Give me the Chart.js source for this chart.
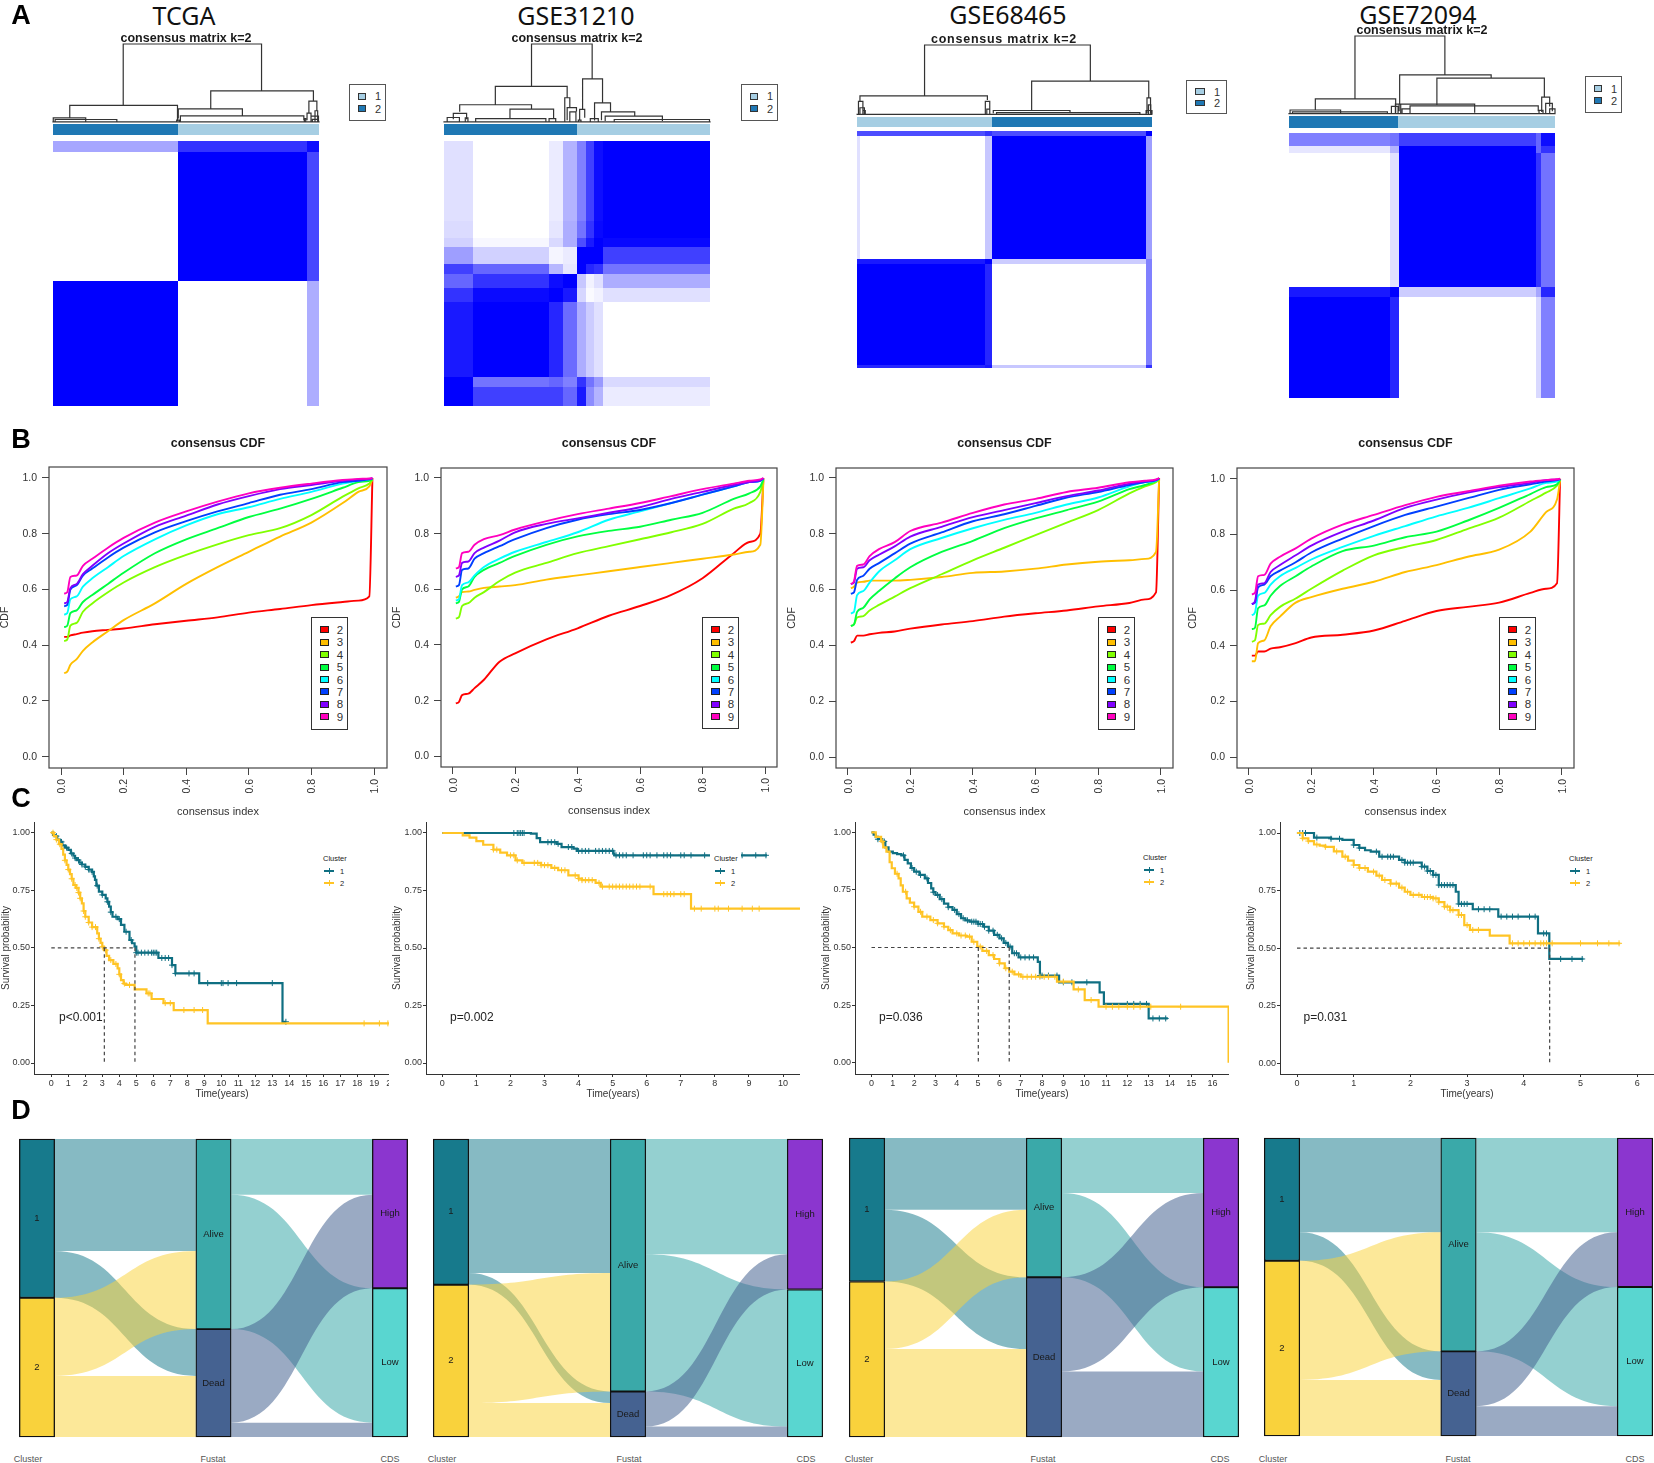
<!DOCTYPE html>
<html>
<head>
<meta charset="utf-8">
<title>Consensus clustering panels</title>
<script src="https://cdn.jsdelivr.net/npm/chart.js@4"></script>
<style>
  html, body { margin: 0; padding: 0; background: #fff; }
  #page { position: relative; width: 1654px; height: 1463px; overflow: hidden; background: #fff;
          font-family: "Liberation Sans", Arial, sans-serif; color: #222; }
  #page canvas { position: absolute; }
  .note { position: absolute; white-space: nowrap; line-height: 1; transform: translate(-50%, -50%); }
  .note.left { transform: translate(0, -50%); }
  .shape { position: absolute; box-sizing: border-box; }
</style>
</head>
<body>
<div id="page"></div>
<script>
// ---- panel A: consensus matrices, block edges in % of the heatmap, intensity 0..1 ----
const matrixNames = ['TCGA', 'GSE31210', 'GSE68465', 'GSE72094'];

const matrixColsTCGA = [0, 47, 95.4, 100];
const matrixRowsTCGA = [0, 4.3, 52.8, 100];
const matrixTCGA = [
  [0.35, 0.8, 0.95],
  [0, 1, 0.72],
  [1, 0, 0.32]
];
const matrixCols31210 = [0, 11, 39.4, 44.8, 49.9, 53.5, 56.5, 59.8, 100];
const matrixRows31210 = [0, 30, 36.5, 40, 46.3, 50.3, 55.3, 60.8, 89, 92.8, 100];
const matrix31210 = [
  [0.12, 0, 0.08, 0.3, 0.5, 0.75, 0.95, 1],
  [0.14, 0, 0.1, 0.32, 0.55, 0.8, 0.97, 1],
  [0.18, 0.03, 0.15, 0.32, 0.7, 0.9, 1, 0.97],
  [0.38, 0.18, 0.04, 0.08, 1, 1, 1, 0.75],
  [0.75, 0.6, 0.28, 0.1, 1, 0.85, 0.8, 0.55],
  [0.6, 0.8, 0.95, 1, 0.22, 0.05, 0.12, 0.32],
  [0.8, 0.96, 1, 0.9, 0.16, 0.02, 0.05, 0.12],
  [0.9, 1, 0.85, 0.58, 0.32, 0.2, 0.12, 0],
  [1, 0.55, 0.6, 0.5, 0.8, 0.55, 0.4, 0.15],
  [1, 0.75, 0.75, 0.6, 0.9, 0.45, 0.3, 0.08]
];
const matrixCols68465 = [0, 1, 43.4, 45.7, 98, 100];
const matrixRows68465 = [0, 2, 54.1, 56.3, 98.9, 100];
const matrix68465 = [
  [0.7, 0.7, 0.8, 0.7, 1],
  [0.12, 0, 0.22, 1, 0.38],
  [0.9, 0.9, 1, 0.2, 0.5],
  [1, 1, 0.85, 0, 0.5],
  [0.85, 0.85, 0.9, 0.22, 0.8]
];
const matrixCols72094 = [0, 37.8, 41.5, 92.7, 94.6, 100];
const matrixRows72094 = [0, 4.9, 7.4, 58.2, 62, 100];
const matrix72094 = [
  [0.5, 0.55, 0.75, 0.6, 0.95],
  [0.1, 0.3, 1, 0.6, 0.8],
  [0, 0.12, 1, 0.8, 0.55],
  [0.9, 1, 0.2, 0.35, 0.85],
  [1, 0.85, 0, 0.15, 0.5]
];

// annotation strip: [split %, colour order]
const annotSplits = [47, 49.9, 45.7, 41.1];
const annotFirstIsDark = [true, true, false, true];
const annotLight = '#a6cee3';
const annotDark = '#1f78b4';

// dendrograms: [x left %, x right %, top height %, left foot %, right foot %]
const dendroTCGA = [
  [26.4, 78.4, 100, 21.7, 40.4], [6.3, 46.8, 21.7, 6, 2], [0.1, 12.3, 6, 1, 1], [0.8, 24, 3.8, 1, 1],
  [59.3, 97.9, 40.4, 17.4, 27.2], [47.1, 71.2, 17.4, 5, 8.5], [47.9, 94.3, 8.5, 1, 3],
  [96.2, 99.2, 27.2, 12, 15], [95.5, 97, 12, 3, 3], [97, 99.8, 8, 1, 1], [98.5, 99.5, 15, 1, 1], [94.5, 95, 5, 1, 1],
  [46.5, 47.5, 3, 1, 1], [97.5, 99.8, 4, 0.5, 0.5], [0, 100, 0.8, 0, 0]
];
const dendro31210 = [
  [32.9, 55.7, 100, 46, 55.7], [19.3, 46.3, 46, 22.6, 31.5], [5.9, 32.9, 22.6, 13.6, 17], [24.8, 41.2, 17, 5, 5],
  [11.9, 38.3, 5, 1, 1], [3.5, 8.5, 11.5, 4, 4], [1.2, 5.8, 6.4, 1, 1], [8, 9, 6, 1, 1],
  [45.4, 47.3, 31.5, 1, 18], [46.3, 49.8, 19, 3, 14], [47.3, 49.6, 13.6, 1, 1], [39.5, 42, 5, 1, 1],
  [52.1, 59.6, 55.7, 16.6, 25], [51, 52.9, 16.6, 3, 6], [50.5, 51.5, 3, 1, 1],
  [56.6, 62.6, 25, 2.5, 13.6], [59.2, 71.7, 13.6, 3, 8], [60.6, 82.1, 8, 2, 2], [64, 99.8, 3.8, 1, 1], [55, 58, 5, 1, 1],
  [0, 100, 0.8, 0, 0]
];
const dendro68465 = [
  [22.9, 79.1, 100, 26.9, 48.1], [1, 44.2, 26.9, 19, 21], [0.5, 2, 19, 1, 1], [1, 2.5, 10, 1, 1], [2, 2.8, 6, 1, 1],
  [43.5, 45, 19, 1, 1], [44, 45, 8, 1, 1], [59.2, 98.9, 48.1, 6, 24], [46.2, 72.2, 6, 2, 2.5], [47.3, 95.9, 3, 1, 1],
  [98.3, 99.5, 24, 2, 2], [98.8, 99.6, 14, 1, 1], [98, 100, 6, 1, 1], [0, 100, 0.6, 0, 0]
];
const dendro72094 = [
  [24.8, 58.6, 100, 19.7, 50.4], [9.9, 40.1, 19.7, 4.7, 2], [0.4, 19.4, 5.5, 1, 1], [1.3, 37, 3, 1, 1],
  [41.6, 76, 50.4, 13, 46.2], [55.6, 96, 46.2, 12, 22.6], [41.4, 69.8, 13, 4, 2], [45.5, 93.7, 10.7, 1, 4],
  [42.5, 45.5, 7, 1, 1], [38.5, 41, 10, 1, 1], [40, 42, 13, 1, 1],
  [95, 98, 22, 3, 10], [96.5, 99, 14, 1, 4], [98, 100, 7, 1, 1], [94, 95.5, 5, 1, 1], [0, 100, 0.8, 0, 0]
];

// ---- panel B: consensus CDF, one row per k ----
const cdfK = ['2', '3', '4', '5', '6', '7', '8', '9'];
const cdfColours = ['#ff0000', '#ffbf00', '#80ff00', '#00ff40', '#00ffff', '#0040ff', '#8000ff', '#ff00bf'];
const cdfIndex = [0.01, 0.02, 0.03, 0.05, 0.07, 0.1, 0.15, 0.2, 0.3, 0.4, 0.5, 0.6, 0.7, 0.8, 0.9, 0.95, 0.985, 0.995];
const cdfTCGA = [
  [0.43, 0.43, 0.435, 0.44, 0.445, 0.45, 0.455, 0.46, 0.475, 0.488, 0.5, 0.517, 0.53, 0.544, 0.555, 0.56, 0.575, 1.0],
  [0.30, 0.305, 0.33, 0.35, 0.38, 0.41, 0.45, 0.49, 0.55, 0.62, 0.68, 0.735, 0.79, 0.84, 0.91, 0.95, 0.97, 0.995],
  [0.415, 0.42, 0.47, 0.48, 0.52, 0.55, 0.59, 0.625, 0.68, 0.724, 0.762, 0.795, 0.82, 0.867, 0.933, 0.963, 0.98, 0.995],
  [0.465, 0.47, 0.515, 0.525, 0.555, 0.58, 0.62, 0.66, 0.73, 0.78, 0.82, 0.86, 0.89, 0.925, 0.965, 0.985, 0.99, 0.995],
  [0.51, 0.515, 0.565, 0.575, 0.61, 0.64, 0.68, 0.72, 0.78, 0.83, 0.87, 0.895, 0.925, 0.95, 0.98, 0.99, 0.995, 0.998],
  [0.54, 0.545, 0.6, 0.615, 0.65, 0.675, 0.715, 0.75, 0.805, 0.845, 0.88, 0.91, 0.94, 0.96, 0.985, 0.99, 0.995, 0.998],
  [0.55, 0.555, 0.605, 0.62, 0.655, 0.685, 0.73, 0.765, 0.825, 0.865, 0.905, 0.935, 0.96, 0.975, 0.99, 0.995, 0.997, 0.999],
  [0.585, 0.59, 0.645, 0.65, 0.685, 0.71, 0.75, 0.785, 0.84, 0.88, 0.915, 0.945, 0.965, 0.98, 0.993, 0.997, 0.998, 1.0]
];
const cdf31210 = [
  [0.19, 0.195, 0.22, 0.225, 0.245, 0.275, 0.34, 0.37, 0.42, 0.46, 0.505, 0.54, 0.58, 0.64, 0.73, 0.77, 0.80, 1.0],
  [0.57, 0.575, 0.59, 0.592, 0.598, 0.605, 0.61, 0.615, 0.635, 0.65, 0.665, 0.68, 0.695, 0.71, 0.725, 0.735, 0.76, 0.99],
  [0.495, 0.5, 0.54, 0.55, 0.57, 0.59, 0.63, 0.66, 0.695, 0.73, 0.755, 0.78, 0.805, 0.835, 0.89, 0.91, 0.95, 0.995],
  [0.55, 0.555, 0.6, 0.61, 0.645, 0.67, 0.695, 0.72, 0.76, 0.79, 0.81, 0.825, 0.85, 0.875, 0.925, 0.945, 0.97, 0.995],
  [0.56, 0.565, 0.615, 0.625, 0.65, 0.68, 0.71, 0.735, 0.77, 0.805, 0.85, 0.88, 0.91, 0.94, 0.97, 0.985, 0.99, 0.998],
  [0.61, 0.615, 0.67, 0.675, 0.71, 0.73, 0.755, 0.78, 0.82, 0.85, 0.87, 0.885, 0.91, 0.94, 0.97, 0.985, 0.99, 0.998],
  [0.645, 0.65, 0.695, 0.7, 0.73, 0.75, 0.775, 0.805, 0.835, 0.855, 0.875, 0.895, 0.925, 0.95, 0.975, 0.985, 0.992, 0.999],
  [0.675, 0.68, 0.73, 0.735, 0.76, 0.78, 0.795, 0.815, 0.845, 0.87, 0.89, 0.91, 0.935, 0.96, 0.98, 0.99, 0.995, 1.0]
];
const cdf68465 = [
  [0.41, 0.415, 0.435, 0.435, 0.44, 0.445, 0.45, 0.46, 0.475, 0.487, 0.503, 0.515, 0.525, 0.54, 0.552, 0.565, 0.59, 1.0],
  [0.605, 0.61, 0.625, 0.628, 0.632, 0.632, 0.632, 0.635, 0.645, 0.66, 0.665, 0.675, 0.69, 0.70, 0.705, 0.71, 0.735, 0.995],
  [0.47, 0.475, 0.5, 0.505, 0.525, 0.545, 0.575, 0.605, 0.655, 0.705, 0.75, 0.795, 0.84, 0.885, 0.945, 0.97, 0.985, 0.995],
  [0.47, 0.475, 0.52, 0.535, 0.565, 0.595, 0.64, 0.68, 0.735, 0.775, 0.82, 0.855, 0.885, 0.915, 0.96, 0.975, 0.99, 0.997],
  [0.515, 0.52, 0.58, 0.595, 0.625, 0.665, 0.705, 0.745, 0.785, 0.82, 0.85, 0.875, 0.905, 0.93, 0.97, 0.985, 0.99, 0.998],
  [0.585, 0.59, 0.635, 0.65, 0.675, 0.695, 0.73, 0.765, 0.805, 0.845, 0.87, 0.90, 0.93, 0.95, 0.975, 0.985, 0.992, 0.998],
  [0.62, 0.625, 0.675, 0.68, 0.705, 0.725, 0.755, 0.79, 0.825, 0.86, 0.885, 0.91, 0.935, 0.955, 0.98, 0.988, 0.993, 0.999],
  [0.62, 0.63, 0.685, 0.69, 0.72, 0.745, 0.77, 0.81, 0.84, 0.875, 0.905, 0.925, 0.95, 0.965, 0.985, 0.99, 0.995, 1.0]
];
const cdf72094 = [
  [0.365, 0.365, 0.38, 0.38, 0.39, 0.395, 0.41, 0.43, 0.44, 0.455, 0.49, 0.525, 0.54, 0.555, 0.59, 0.605, 0.625, 1.0],
  [0.345, 0.345, 0.41, 0.42, 0.47, 0.505, 0.555, 0.575, 0.605, 0.63, 0.665, 0.69, 0.72, 0.745, 0.81, 0.88, 0.925, 0.995],
  [0.415, 0.42, 0.475, 0.48, 0.51, 0.54, 0.57, 0.605, 0.67, 0.725, 0.755, 0.78, 0.82, 0.86, 0.92, 0.95, 0.975, 0.995],
  [0.46, 0.465, 0.535, 0.545, 0.58, 0.615, 0.65, 0.685, 0.74, 0.76, 0.79, 0.81, 0.85, 0.895, 0.945, 0.97, 0.98, 0.997],
  [0.51, 0.52, 0.58, 0.59, 0.62, 0.65, 0.68, 0.71, 0.755, 0.795, 0.83, 0.865, 0.895, 0.93, 0.965, 0.985, 0.99, 0.998],
  [0.55, 0.555, 0.61, 0.62, 0.65, 0.67, 0.70, 0.735, 0.785, 0.83, 0.87, 0.90, 0.93, 0.96, 0.98, 0.99, 0.995, 0.998],
  [0.55, 0.56, 0.62, 0.625, 0.665, 0.69, 0.725, 0.76, 0.81, 0.85, 0.895, 0.925, 0.95, 0.97, 0.985, 0.995, 0.997, 0.999],
  [0.585, 0.59, 0.65, 0.655, 0.695, 0.72, 0.75, 0.785, 0.835, 0.87, 0.905, 0.935, 0.955, 0.975, 0.99, 0.995, 0.998, 1.0]
];
const cdfTicks = [0, 0.2, 0.4, 0.6, 0.8, 1];

// ---- panel C: Kaplan-Meier steps [years, survival], censor times in years ----
const survivalTicks = [0, 0.25, 0.5, 0.75, 1];
const kmTimeTicksTCGA = [0, 1, 2, 3, 4, 5, 6, 7, 8, 9, 10, 11, 12, 13, 14, 15, 16, 17, 18, 19, 20];
const kmTimeTicks31210 = [0, 1, 2, 3, 4, 5, 6, 7, 8, 9, 10];
const kmTimeTicks68465 = [0, 1, 2, 3, 4, 5, 6, 7, 8, 9, 10, 11, 12, 13, 14, 15, 16];
const kmTimeTicks72094 = [0, 1, 2, 3, 4, 5, 6];

const kmTCGA1 = [[0, 1], [0.1, 0.99], [0.2, 0.985], [0.35, 0.97], [0.5, 0.96], [0.65, 0.945], [0.8, 0.935], [1, 0.925], [1.15, 0.91],
  [1.3, 0.9], [1.4, 0.89], [1.5, 0.881], [1.65, 0.87], [1.8, 0.862], [2, 0.852], [2.2, 0.84], [2.4, 0.83], [2.5, 0.81], [2.57, 0.795],
  [2.65, 0.77], [2.8, 0.744], [3, 0.73], [3.2, 0.715], [3.3, 0.7], [3.4, 0.679], [3.5, 0.655], [3.6, 0.635], [3.9, 0.625], [4.1, 0.6],
  [4.3, 0.57], [4.6, 0.534], [4.75, 0.52], [4.9, 0.505], [5, 0.479], [6.3, 0.456], [7.1, 0.425], [7.3, 0.389], [8.7, 0.347],
  [13.6, 0.179], [13.8, 0.179]];
const kmTCGA2 = [[0, 1], [0.15, 0.985], [0.3, 0.97], [0.45, 0.95], [0.6, 0.93], [0.7, 0.905], [0.8, 0.88], [0.9, 0.86], [1, 0.84], [1.1, 0.82],
  [1.2, 0.8], [1.3, 0.773], [1.45, 0.76], [1.6, 0.74], [1.7, 0.715], [1.8, 0.693], [1.9, 0.66], [2, 0.635], [2.2, 0.61], [2.4, 0.59],
  [2.7, 0.563], [2.8, 0.54], [2.9, 0.522], [3, 0.505], [3.1, 0.49], [3.25, 0.465], [3.4, 0.447], [3.65, 0.43], [3.9, 0.411], [4, 0.385],
  [4.1, 0.36], [4.25, 0.345], [4.4, 0.339], [4.9, 0.32], [5.6, 0.302], [5.9, 0.278], [6.6, 0.26], [7.2, 0.23], [9.2, 0.172], [21.1, 0.172]];
const censorTCGA1 = [0.3, 0.6, 0.9, 1.2, 1.4, 1.6, 1.8, 2, 2.2, 2.4, 2.7, 3, 3.3, 3.5, 3.8, 4, 4.4, 4.7, 5, 5.1, 5.3, 5.5, 5.7, 5.9,
  6, 6.1, 6.2, 6.5, 6.7, 6.9, 7.1, 7.3, 8.1, 8.4, 9.2, 10, 10.1, 10.4, 10.9, 13, 13.8];
const censorTCGA2 = [0.1, 0.3, 0.5, 0.8, 1, 1.2, 1.4, 1.5, 1.6, 1.7, 1.9, 2, 2.2, 2.4, 2.6, 2.8, 3, 3.2, 3.5, 3.8, 4, 4.3, 4.6,
  5.7, 5.8, 6.7, 7, 7.8, 8.4, 8.9, 18.4, 19.3, 19.8];

const km312101 = [[0, 1], [2.6, 0.997], [2.77, 0.978], [2.87, 0.96], [3.36, 0.953], [3.5, 0.939], [3.85, 0.932], [3.95, 0.922],
  [5.02, 0.91], [5.05, 0.903], [9.53, 0.903]];
const km312102 = [[0, 1], [0.6, 0.99], [0.8, 0.98], [1, 0.965], [1.2, 0.949], [1.5, 0.928], [1.7, 0.915], [1.9, 0.903], [2.15, 0.881],
  [2.35, 0.87], [2.9, 0.86], [3.2, 0.848], [3.4, 0.838], [3.7, 0.816], [4, 0.802], [4.1, 0.795], [4.5, 0.783], [4.65, 0.767],
  [6.2, 0.734], [7.3, 0.671], [10.6, 0.671]];
const censor312101 = [2.1, 2.2, 2.25, 2.3, 2.35, 2.4, 3.1, 3.2, 3.3, 3.4, 3.7, 3.8, 4, 4.1, 4.2, 4.3, 4.5, 4.6, 4.7, 4.8, 4.9, 5, 5.1,
  5.2, 5.3, 5.4, 5.6, 5.9, 6, 6.1, 6.3, 6.5, 6.6, 6.7, 7, 7.1, 7.3, 7.7, 8.8, 9.2, 9.5];
const censor312102 = [1.5, 1.6, 2, 2.1, 2.2, 2.4, 2.7, 2.8, 2.9, 3, 3.1, 3.3, 3.5, 3.6, 3.9, 4, 4.1, 4.2, 4.3, 4.4, 4.6, 4.7, 4.9, 5,
  5.1, 5.2, 5.3, 5.4, 5.5, 5.6, 5.7, 5.8, 6.1, 6.5, 6.6, 6.7, 6.8, 7, 7.1, 7.4, 7.6, 8, 8.1, 8.4, 8.8, 9.1, 9.3];

const km684651 = [[0, 1], [0.1, 0.99], [0.2, 0.98], [0.3, 0.97], [0.5, 0.96], [0.65, 0.935], [0.8, 0.916], [1, 0.91], [1.2, 0.905], [1.4, 0.9],
  [1.55, 0.88], [1.7, 0.865], [1.85, 0.845], [2, 0.829], [2.25, 0.815], [2.5, 0.8], [2.65, 0.78], [2.8, 0.757], [2.9, 0.74], [3, 0.728],
  [3.2, 0.71], [3.4, 0.69], [3.6, 0.675], [3.8, 0.663], [4, 0.645], [4.2, 0.627], [4.4, 0.618], [4.6, 0.612], [5, 0.602], [5.25, 0.59],
  [5.5, 0.573], [5.75, 0.555], [6, 0.54], [6.2, 0.52], [6.4, 0.504], [6.6, 0.475], [6.9, 0.457], [7.8, 0.438], [7.9, 0.378], [8.8, 0.349],
  [10.7, 0.305], [10.9, 0.255], [13, 0.192], [13.9, 0.192]];
const km684652 = [[0, 1], [0.2, 0.98], [0.45, 0.96], [0.55, 0.935], [0.7, 0.916], [0.85, 0.87], [0.95, 0.844], [1.1, 0.82], [1.27, 0.8],
  [1.37, 0.77], [1.47, 0.742], [1.65, 0.713], [1.8, 0.695], [2, 0.677], [2.2, 0.655], [2.38, 0.634], [2.76, 0.619], [3.1, 0.605],
  [3.4, 0.59], [3.6, 0.575], [3.8, 0.561], [4.1, 0.552], [4.45, 0.547], [4.7, 0.525], [4.96, 0.504], [5.2, 0.485], [5.5, 0.467],
  [5.75, 0.45], [6, 0.431], [6.25, 0.41], [6.46, 0.395], [6.7, 0.383], [7, 0.373], [8.7, 0.352], [9.48, 0.318], [10, 0.272],
  [10.65, 0.243], [16.75, 0]];
const censor684651 = [0.3, 0.6, 1.5, 1.9, 2.1, 2.3, 2.6, 2.9, 3.1, 3.3, 3.6, 3.9, 4.1, 4.3, 4.5, 4.7, 4.8, 4.9, 5, 5.1, 5.2, 5.3, 5.5,
  5.7, 5.9, 6.1, 6.3, 6.5, 6.7, 6.8, 7, 7.2, 7.4, 7.6, 7.9, 8, 8.3, 8.7, 9, 9.4, 10.1, 12, 12.3, 12.6, 12.9, 13.2, 13.5, 13.8];
const censor684652 = [0.5, 1.2, 1.6, 2, 2.3, 2.6, 2.9, 3.1, 3.4, 3.7, 4, 4.2, 4.4, 4.6, 4.8, 5.1, 5.4, 5.7, 6, 6.3, 6.6, 6.9, 7.1, 7.3,
  7.5, 7.7, 7.9, 8.1, 8.3, 8.6, 9, 9.7, 10.3, 11, 11.3, 11.6, 12, 12.3, 12.6, 13.1, 14.5];

const km720941 = [[0, 1], [0.3, 0.98], [0.6, 0.975], [0.8, 0.97], [1, 0.948], [1.1, 0.935], [1.2, 0.925], [1.3, 0.919], [1.45, 0.897], [1.8, 0.883],
  [1.9, 0.871], [2.2, 0.854], [2.3, 0.835], [2.4, 0.818], [2.5, 0.774], [2.8, 0.745], [2.85, 0.692], [3.1, 0.669], [3.55, 0.637],
  [4.25, 0.564], [4.45, 0.453], [5.05, 0.453]];
const km720942 = [[0, 1], [0.1, 0.977], [0.2, 0.965], [0.3, 0.95], [0.4, 0.945], [0.5, 0.94], [0.65, 0.92], [0.8, 0.897], [0.9, 0.88], [1, 0.861],
  [1.1, 0.848], [1.25, 0.832], [1.4, 0.815], [1.5, 0.796], [1.65, 0.78], [1.8, 0.763], [1.9, 0.745], [2, 0.731], [2.2, 0.722], [2.4, 0.716],
  [2.5, 0.7], [2.6, 0.68], [2.7, 0.665], [2.85, 0.644], [2.95, 0.6], [3.05, 0.579], [3.4, 0.554], [3.75, 0.521], [5.7, 0.521]];
const censor720941 = [0.05, 0.1, 0.15, 0.35, 0.6, 0.75, 1, 1.1, 1.4, 1.5, 1.6, 1.65, 1.7, 1.85, 1.9, 1.95, 2, 2.05, 2.2, 2.25, 2.3, 2.35,
  2.4, 2.45, 2.5, 2.55, 2.6, 2.65, 2.7, 2.75, 2.85, 2.9, 2.95, 3, 3.2, 3.3, 3.4, 3.6, 3.7, 3.8, 3.9, 4.1, 4.2, 4.35, 4.4, 4.65, 4.85, 5.03];
const censor720942 = [0.1, 0.2, 0.35, 0.5, 0.7, 0.85, 1, 1.1, 1.2, 1.35, 1.45, 1.55, 1.65, 1.75, 1.85, 1.95, 2.05, 2.15, 2.25, 2.3, 2.35,
  2.4, 2.45, 2.5, 2.6, 2.65, 2.7, 2.75, 2.85, 2.9, 3, 3.1, 3.2, 3.8, 3.9, 4, 4.1, 4.2, 4.3, 4.35, 4.4, 4.5, 5, 5.3, 5.5, 5.68];

const medianTimes = [[3.12, 4.92], [], [5.01, 6.46], [4.456]];
const pValues = ['p<0.001', 'p=0.002', 'p=0.036', 'p=0.031'];

// ---- panel D: alluvial flows in % of patients ----
const alluvialStages = ['Cluster', 'Fustat', 'CDS'];
const clusterNames = ['1', '2'];
const fustatNames = ['Alive', 'Dead'];
const cdsNames = ['High', 'Low'];
const flowClusterFustat = [
  [[37.6, 15.7], [26.2, 20.5]],
  [[45, 3.9], [39.7, 11.4]],
  [[24, 24], [22.6, 29.4]],
  [[31.6, 9.6], [40, 18.8]]
];
const flowFustatCds = [
  [[18.7, 45.1], [31.4, 4.8]],
  [[38.7, 46], [11.8, 3.5]],
  [[18.4, 28.2], [31.5, 21.9]],
  [[31.6, 40], [18.4, 10]]
];

// ---- layout (page pixels) ----
const TEAL = '#0f6f82';
const YELLOW = '#ffc425';
const INK = '#333';
const FONT = '"Liberation Sans", Arial, sans-serif';

const matrixBoxes = [
  { l: 53, r: 319, t: 141, b: 406, aT: 124, aB: 135, dT: 44, dB: 122.5, head: 184, headY: 15, sub: 186, subY: 38, spacing: 0 },
  { l: 444, r: 710, t: 141, b: 406, aT: 124, aB: 135, dT: 44, dB: 122.5, head: 576, headY: 15, sub: 577, subY: 38, spacing: 0 },
  { l: 857, r: 1152, t: 131, b: 368, aT: 117, aB: 127, dT: 45, dB: 114.7, head: 1008, headY: 14, sub: 1004, subY: 39, spacing: 0.75 },
  { l: 1289, r: 1555, t: 133, b: 398, aT: 116, aB: 128, dT: 36, dB: 114.3, head: 1418, headY: 14, sub: 1422, subY: 30, spacing: 0 }
];
const matrixLegends = [
  { l: 349, r: 386, t: 84, b: 121, sx: 358, sw: 8, sh: 7, y1: 96, y2: 108.5, tx: 378 },
  { l: 741, r: 778, t: 84, b: 121, sx: 750, sw: 8, sh: 7, y1: 96, y2: 108.5, tx: 770 },
  { l: 1186, r: 1227, t: 80, b: 114, sx: 1195, sw: 10, sh: 6.5, y1: 91.5, y2: 103, tx: 1217 },
  { l: 1585, r: 1622, t: 76, b: 113, sx: 1594, sw: 8, sh: 7, y1: 88.5, y2: 100.5, tx: 1614 }
];
const cdfBoxes = [
  { l: 49, r: 387, t: 467, b: 768, x0: 61, x1: 374, y0: 756.7, y1: 478, ylab: 5, sx: 311, lt: 617, lb: 730 },
  { l: 441, r: 777, t: 468, b: 767, x0: 452.7, x1: 765, y0: 756.3, y1: 478, ylab: 397, sx: 702, lt: 617, lb: 729 },
  { l: 836, r: 1173, t: 468, b: 768, x0: 847.7, x1: 1160.7, y0: 757, y1: 478, ylab: 792, sx: 1098, lt: 617, lb: 730 },
  { l: 1237, r: 1574, t: 468, b: 768, x0: 1248.7, x1: 1561.7, y0: 757.3, y1: 478.7, ylab: 1193, sx: 1499, lt: 617, lb: 730 }
];
const kmBoxes = [
  { l: 34, r: 410, crop: 389, x0: 51.3, pxPerYear: 17, y0: 1063, y1: 832.7, ylab: 6, keyX: 323, keyY: 858, pX: 59 },
  { l: 426, r: 800, crop: 800, x0: 442.3, pxPerYear: 34.07, y0: 1063, y1: 833, ylab: 397, keyX: 714, keyY: 858, pX: 450 },
  { l: 855, r: 1229, crop: 1229, x0: 871.5, pxPerYear: 21.32, y0: 1062.7, y1: 832.3, ylab: 826, keyX: 1143, keyY: 857, pX: 879 },
  { l: 1280, r: 1654, crop: 1654, x0: 1297, pxPerYear: 56.7, y0: 1063.3, y1: 833, ylab: 1251, keyX: 1569, keyY: 858, pX: 1303.5 }
];
const alluvialBoxes = [
  { c0: 36.6, c2: 389.8, barW: 35.3, t: 1139, b: 1437, names: [28, 213, 390] },
  { c0: 451, c2: 805, barW: 35.5, t: 1139, b: 1437, names: [442, 629, 806] },
  { c0: 866.5, c2: 1220.4, barW: 35.5, t: 1138, b: 1437, names: [859, 1043, 1220] },
  { c0: 1281.6, c2: 1635, barW: 35.5, t: 1138, b: 1436, names: [1273, 1458, 1635] }
];

const page = document.getElementById('page');

function note(text, x, y, css, left) {
  const el = document.createElement('div');
  el.className = left ? 'note left' : 'note';
  el.textContent = text;
  el.style.left = x + 'px';
  el.style.top = y + 'px';
  el.style.cssText += css;
  page.appendChild(el);
  return el;
}

function shape(l, t, w, h, css) {
  const el = document.createElement('div');
  el.className = 'shape';
  el.style.cssText = `left:${l}px;top:${t}px;width:${w}px;height:${h}px;` + css;
  page.appendChild(el);
  return el;
}

function addCanvas(l, t, w, h) {
  const c = document.createElement('canvas');
  c.width = w;
  c.height = h;
  c.style.left = l + 'px';
  c.style.top = t + 'px';
  c.style.width = w + 'px';
  c.style.height = h + 'px';
  page.appendChild(c);
  return c;
}

// value range of an axis whose anchors (value 0 and value `span`) sit at px0, px1
function axisRange(lo, hi, px0, px1, span) {
  const k = span / (px1 - px0);
  return { min: (lo - px0) * k, max: (hi - px0) * k };
}

const baseOptions = {
  responsive: false,
  animation: false,
  devicePixelRatio: 1,
  plugins: { legend: { display: false }, tooltip: { enabled: false }, title: { display: false } }
};

// draws the block matrix and the annotation strip through the chart's scales
const matrixPlugin = {
  id: 'matrixBlocks',
  beforeDatasetsDraw(chart, args, opts) {
    const { ctx, scales: { x, y } } = chart;
    const { cols, rows, cells, split, darkFirst, stripTop, stripBottom } = opts;
    const px = v => Math.round(x.getPixelForValue(v));
    const py = v => Math.round(y.getPixelForValue(v));
    ctx.save();
    cells.forEach((row, i) => row.forEach((v, j) => {
      const shade = Math.round(255 * (1 - v));
      ctx.fillStyle = `rgb(${shade},${shade},255)`;
      ctx.fillRect(px(cols[j]), py(rows[i]), px(cols[j + 1]) - px(cols[j]), py(rows[i + 1]) - py(rows[i]));
    }));
    ctx.fillStyle = darkFirst ? annotDark : annotLight;
    ctx.fillRect(px(0), py(stripTop), px(split) - px(0), py(stripBottom) - py(stripTop));
    ctx.fillStyle = darkFirst ? annotLight : annotDark;
    ctx.fillRect(px(split), py(stripTop), px(100) - px(split), py(stripBottom) - py(stripTop));
    ctx.restore();
  }
};

const framePlugin = {
  id: 'plotFrame',
  afterDraw(chart) {
    const { ctx, chartArea: a } = chart;
    ctx.save();
    ctx.strokeStyle = '#444';
    ctx.lineWidth = 1.2;
    ctx.strokeRect(a.left, a.top, a.right - a.left, a.bottom - a.top);
    ctx.restore();
  }
};

const flowPlugin = {
  id: 'alluvialFlows',
  beforeDatasetsDraw(chart, args, opts) {
    const { ctx, scales: { x, y } } = chart;
    const half = opts.barW / 2;
    ctx.save();
    opts.stages.forEach(stage => {
      const x0 = x.getPixelForValue(stage.from) + half;
      const x1 = x.getPixelForValue(stage.from + 1) - half;
      const xm = (x0 + x1) / 2;
      const nSrc = stage.matrix.length;
      const nDst = stage.matrix[0].length;
      const targetStart = [];
      let cum = 0;
      for (let j = 0; j < nDst; j++) {
        targetStart[j] = [];
        for (let i = 0; i < nSrc; i++) { targetStart[j][i] = cum; cum += stage.matrix[i][j]; }
      }
      let s = 0;
      stage.matrix.forEach((row, i) => row.forEach((v, j) => {
        const t = targetStart[j][i];
        const a0 = y.getPixelForValue(s), a1 = y.getPixelForValue(s + v);
        const b0 = y.getPixelForValue(t), b1 = y.getPixelForValue(t + v);
        ctx.beginPath();
        ctx.moveTo(x0, a0);
        ctx.bezierCurveTo(xm, a0, xm, b0, x1, b0);
        ctx.lineTo(x1, b1);
        ctx.bezierCurveTo(xm, b1, xm, a1, x0, a1);
        ctx.closePath();
        ctx.fillStyle = stage.colours[i];
        ctx.fill();
        s += v;
      }));
    });
    ctx.restore();
  },
  afterDatasetsDraw(chart) {
    const { ctx } = chart;
    ctx.save();
    ctx.font = `9.5px ${FONT}`;
    ctx.fillStyle = '#1a1a1a';
    ctx.textAlign = 'center';
    ctx.textBaseline = 'middle';
    chart.data.datasets.forEach((ds, d) => {
      chart.getDatasetMeta(d).data.forEach((bar, i) => {
        if (ds.data[i] == null) return;
        const c = bar.getCenterPoint();
        ctx.fillText(ds.label, c.x, c.y);
      });
    });
    ctx.restore();
  }
};

// ---- panel A ----
const matrixData = [
  { cols: matrixColsTCGA, rows: matrixRowsTCGA, cells: matrixTCGA, dendro: dendroTCGA },
  { cols: matrixCols31210, rows: matrixRows31210, cells: matrix31210, dendro: dendro31210 },
  { cols: matrixCols68465, rows: matrixRows68465, cells: matrix68465, dendro: dendro68465 },
  { cols: matrixCols72094, rows: matrixRows72094, cells: matrix72094, dendro: dendro72094 }
];

function dendroPoints(segments) {
  const pts = [];
  segments.forEach(([xl, xr, top, footL, footR]) => {
    pts.push({ x: xl, y: footL }, { x: xl, y: top }, { x: xr, y: top }, { x: xr, y: footR }, { x: NaN, y: NaN });
  });
  return pts;
}

function drawMatrix(i) {
  const box = matrixBoxes[i];
  const d = matrixData[i];
  const pad = 2;
  const canvas = addCanvas(box.l - pad, Math.floor(box.dT) - pad, box.r - box.l + 2 * pad, box.b - Math.floor(box.dT) + 2 * pad);
  const heatH = box.b - box.t;
  const toHeat = p => (p - box.t) / heatH * 100;
  const span = box.dB - box.dT;
  new Chart(canvas, {
    type: 'line',
    data: { datasets: [{
      label: 'dendrogram', data: dendroPoints(d.dendro), xAxisID: 'x', yAxisID: 'yD',
      borderColor: '#333', borderWidth: 1.2, pointRadius: 0, tension: 0, spanGaps: false, clip: false
    }] },
    options: {
      ...baseOptions,
      layout: { autoPadding: false, padding: pad },
      scales: {
        x: { type: 'linear', display: false, min: 0, max: 100 },
        y: { type: 'linear', display: false, reverse: true, min: toHeat(Math.floor(box.dT)), max: 100 },
        yD: { type: 'linear', display: false, min: (box.dB - box.b) / span * 100, max: (box.dB - Math.floor(box.dT)) / span * 100 }
      },
      plugins: {
        ...baseOptions.plugins,
        matrixBlocks: {
          cols: d.cols, rows: d.rows, cells: d.cells, split: annotSplits[i], darkFirst: annotFirstIsDark[i],
          stripTop: toHeat(box.aT), stripBottom: toHeat(box.aB)
        }
      }
    },
    plugins: [matrixPlugin]
  });
  note(matrixNames[i], box.head, box.headY, `font:25px "Noto Sans",sans-serif;color:#111;`);
  note('consensus matrix k=2', box.sub, box.subY, `font:bold 12.5px ${FONT};color:#1a1a1a;letter-spacing:${box.spacing}px;`);

  const lg = matrixLegends[i];
  shape(lg.l, lg.t, lg.r - lg.l, lg.b - lg.t, 'border:1.4px solid #555;background:#fff;');
  clusterNames.forEach((name, k) => {
    const yc = k === 0 ? lg.y1 : lg.y2;
    shape(lg.sx, yc - lg.sh / 2, lg.sw, lg.sh, `background:${k === 0 ? annotLight : annotDark};border:1px solid #333;`);
    note(name, lg.tx, yc, `font:11px ${FONT};color:#333;`);
  });
}

// ---- panel B ----
const cdfData = [cdfTCGA, cdf31210, cdf68465, cdf72094];

function drawCdf(i) {
  const box = cdfBoxes[i];
  const canvasL = Math.round(box.ylab - 6);
  const canvasT = 436;
  const axisBelow = 51;
  const padRight = 6;
  const canvas = addCanvas(canvasL, canvasT, box.r + padRight - canvasL, box.b + axisBelow - canvasT);
  const xr = axisRange(box.l, box.r, box.x0, box.x1, 1);
  const yr = axisRange(box.b, box.t, box.y0, box.y1, 1);
  const tickColour = '#444';
  new Chart(canvas, {
    type: 'line',
    data: { datasets: cdfData[i].map((vals, k) => ({
      label: cdfK[k],
      data: vals.map((v, j) => ({ x: cdfIndex[j], y: v })),
      borderColor: cdfColours[k],
      borderWidth: 1.9,
      pointRadius: 0,
      cubicInterpolationMode: 'monotone',
      order: cdfK.length - k
    })) },
    options: {
      ...baseOptions,
      layout: { autoPadding: false, padding: { left: 0, right: padRight, top: 0, bottom: 0 } },
      scales: {
        x: {
          type: 'linear', min: xr.min, max: xr.max,
          afterBuildTicks: ax => { ax.ticks = cdfTicks.map(value => ({ value })); },
          afterFit: ax => { ax.height = axisBelow; },
          border: { display: false },
          grid: { drawOnChartArea: false, drawTicks: true, tickLength: 7, tickColor: tickColour },
          ticks: {
            autoSkip: false, minRotation: 90, maxRotation: 90, padding: 4, labelOffset: 1,
            color: INK, font: { family: FONT, size: 10.5 }, callback: v => v.toFixed(1)
          },
          title: { display: true, text: 'consensus index', color: INK, padding: 0, font: { family: FONT, size: 11 } }
        },
        y: {
          type: 'linear', min: yr.min, max: yr.max,
          afterBuildTicks: ax => { ax.ticks = cdfTicks.map(value => ({ value })); },
          afterFit: ax => { ax.width = box.l - canvasL; },
          border: { display: false },
          grid: { drawOnChartArea: false, drawTicks: true, tickLength: 7, tickColor: tickColour },
          ticks: { autoSkip: false, padding: 5, color: INK, font: { family: FONT, size: 10.5 }, callback: v => v.toFixed(1) },
          title: { display: true, text: 'CDF', color: INK, padding: 0, font: { family: FONT, size: 10.5 } }
        }
      },
      plugins: {
        ...baseOptions.plugins,
        title: {
          display: true, text: 'consensus CDF', color: '#1a1a1a', fullSize: false,
          font: { family: FONT, size: 12.5, weight: 'bold' }, padding: { top: 0, bottom: box.t - canvasT - 15 }
        }
      }
    },
    plugins: [framePlugin]
  });

  // legend box
  shape(box.sx, box.lt, 37, box.lb - box.lt, 'border:1.4px solid #333;background:#fff;');
  cdfK.forEach((k, n) => {
    const yc = box.lt + 12.7 + n * 12.45;
    shape(box.sx + 9, yc - 3.5, 9, 7, `background:${cdfColours[n]};border:1px solid #222;`);
    note(k, box.sx + 29, yc, `font:11.5px ${FONT};color:#333;`);
  });
}

// ---- panel C ----
const kmData = [
  { a: kmTCGA1, b: kmTCGA2, ca: censorTCGA1, cb: censorTCGA2, ticks: kmTimeTicksTCGA },
  { a: km312101, b: km312102, ca: censor312101, cb: censor312102, ticks: kmTimeTicks31210 },
  { a: km684651, b: km684652, ca: censor684651, cb: censor684652, ticks: kmTimeTicks68465 },
  { a: km720941, b: km720942, ca: censor720941, cb: censor720942, ticks: kmTimeTicks72094 }
];

function survivalAt(curve, t) {
  let s = curve[0][1];
  curve.forEach(([time, v]) => { if (time <= t) s = v; });
  return s;
}

function kmStep(curve, colour, order) {
  return {
    label: 'curve', data: curve.map(([x, y]) => ({ x, y })), borderColor: colour, borderWidth: 2.2,
    pointRadius: 0, stepped: 'before', tension: 0, order
  };
}

function kmCensors(curve, times, colour, order) {
  return {
    label: 'censored', data: times.map(t => ({ x: t, y: survivalAt(curve, t) })), showLine: false,
    pointStyle: 'cross', pointRadius: 3, pointBorderWidth: 1, pointBorderColor: colour, pointBackgroundColor: colour, order
  };
}

function medianDashes(times) {
  if (!times.length) return [];
  const pts = [{ x: 0, y: 0.5 }, { x: Math.max(...times), y: 0.5 }, { x: NaN, y: NaN }];
  times.forEach(t => pts.push({ x: t, y: 0.5 }, { x: t, y: 0 }, { x: NaN, y: NaN }));
  return [{ label: 'median', data: pts, borderColor: '#444', borderWidth: 1.2, borderDash: [3.5, 3], pointRadius: 0, tension: 0, order: -1 }];
}

function drawKm(i) {
  const box = kmBoxes[i];
  const d = kmData[i];
  const T = 822, B = 1074, canvasT = 808, below = 26, padRight = 8;
  const canvasL = Math.round(box.ylab - 6);
  const canvas = addCanvas(canvasL, canvasT, box.r + padRight - canvasL, B + below - canvasT);
  canvas.style.clipPath = `inset(0 ${box.r + padRight - box.crop}px 0 0)`;
  const xr = axisRange(box.l, box.r, box.x0, box.x0 + box.pxPerYear, 1);
  const yr = axisRange(B, T, box.y0, box.y1, 1);
  const axisLine = { display: true, color: '#333', width: 1 };
  const grid = { drawOnChartArea: false, drawTicks: true, tickLength: 3, tickColor: '#333' };
  new Chart(canvas, {
    type: 'line',
    data: { datasets: [
      kmStep(d.a, TEAL, 3), kmCensors(d.a, d.ca, TEAL, 2),
      kmStep(d.b, YELLOW, 1), kmCensors(d.b, d.cb, YELLOW, 0),
      ...medianDashes(medianTimes[i])
    ] },
    options: {
      ...baseOptions,
      layout: { autoPadding: false, padding: { left: 0, right: padRight, top: T - canvasT, bottom: 0 } },
      scales: {
        x: {
          type: 'linear', min: xr.min, max: xr.max,
          afterBuildTicks: ax => { ax.ticks = d.ticks.map(value => ({ value })); },
          afterFit: ax => { ax.height = below; },
          border: axisLine, grid,
          ticks: { autoSkip: false, maxRotation: 0, padding: 1, color: INK, font: { family: FONT, size: 9 } },
          title: { display: true, text: 'Time(years)', color: INK, padding: 0, font: { family: FONT, size: 10 } }
        },
        y: {
          type: 'linear', min: yr.min, max: yr.max,
          afterBuildTicks: ax => { ax.ticks = survivalTicks.map(value => ({ value })); },
          afterFit: ax => { ax.width = box.l - canvasL; },
          border: axisLine, grid,
          ticks: { autoSkip: false, padding: 1, color: INK, font: { family: FONT, size: 9 }, callback: v => v.toFixed(2) },
          title: { display: true, text: 'Survival probability', color: INK, padding: 0, font: { family: FONT, size: 10 } }
        }
      }
    }
  });

  note(pValues[i], box.pX, 1017, `font:12px ${FONT};color:#222;`, true);

  // cluster key with its white background, it hides the curve in the GSE31210 panel
  shape(box.keyX - 4, box.keyY - 7, 31, 42, 'background:#fff;');
  note('Cluster', box.keyX, box.keyY, `font:7.5px ${FONT};color:#222;`, true);
  clusterNames.forEach((name, k) => {
    const yc = box.keyY + 13 + k * 12.3;
    const colour = k === 0 ? TEAL : YELLOW;
    shape(box.keyX + 1, yc - 1, 10, 2, `background:${colour};`);
    shape(box.keyX + 5.5, yc - 3, 1, 6, `background:${colour};`);
    note(name, box.keyX + 17, yc, `font:7.5px ${FONT};color:#222;`, true);
  });
}

// ---- panel D ----
const nodeColours = { '1': '#177a8c', '2': '#f9d23c', Alive: '#3aa9a9', Dead: '#456291', High: '#8b36cf', Low: '#59d6d0' };
const clusterFlowColours = ['rgba(23,122,140,0.52)', 'rgba(249,210,60,0.52)'];
const fustatFlowColours = ['rgba(58,169,169,0.54)', 'rgba(69,98,145,0.54)'];

function nodeDataset(name, stage, value) {
  const data = [null, null, null];
  data[stage] = value;
  return {
    label: name, data, backgroundColor: nodeColours[name], borderColor: '#111', borderWidth: 1.3,
    borderSkipped: false, clip: false
  };
}

function drawAlluvial(i) {
  const box = alluvialBoxes[i];
  const pad = 19;
  const canvas = addCanvas(Math.round(box.c0 - pad), box.t - 1, Math.round(box.c2 - box.c0 + 2 * pad), box.b - box.t + 2);
  const a = flowClusterFustat[i];
  const b = flowFustatCds[i];
  const sum = arr => arr.reduce((s, v) => s + v, 0);
  const datasets = [
    ...clusterNames.map((n, k) => nodeDataset(n, 0, sum(a[k]))),
    ...fustatNames.map((n, k) => nodeDataset(n, 1, sum(b[k]))),
    ...cdsNames.map((n, k) => nodeDataset(n, 2, b[0][k] + b[1][k]))
  ];
  new Chart(canvas, {
    type: 'bar',
    data: { labels: alluvialStages, datasets },
    options: {
      ...baseOptions,
      barThickness: box.barW,
      layout: { autoPadding: false, padding: { left: pad, right: pad, top: 1, bottom: 1 } },
      scales: {
        x: { type: 'category', display: false, stacked: true, offset: false },
        y: { type: 'linear', display: false, stacked: true, reverse: true, min: 0, max: 100 }
      },
      plugins: {
        ...baseOptions.plugins,
        alluvialFlows: {
          barW: box.barW,
          stages: [
            { from: 0, matrix: a, colours: clusterFlowColours },
            { from: 1, matrix: b, colours: fustatFlowColours }
          ]
        }
      }
    },
    plugins: [flowPlugin]
  });
  alluvialStages.forEach((name, k) => note(name, box.names[k], 1459, `font:9px ${FONT};color:#555;`));
}

matrixBoxes.forEach((b, i) => drawMatrix(i));
cdfBoxes.forEach((b, i) => drawCdf(i));
kmBoxes.forEach((b, i) => drawKm(i));
alluvialBoxes.forEach((b, i) => drawAlluvial(i));

// panel letters
[['A', 21, 15], ['B', 21, 439], ['C', 21, 798], ['D', 21, 1110]].forEach(([t, x, y]) => {
  note(t, x, y, `font:bold 27px ${FONT};color:#000;`);
});
</script>
</body>
</html>
